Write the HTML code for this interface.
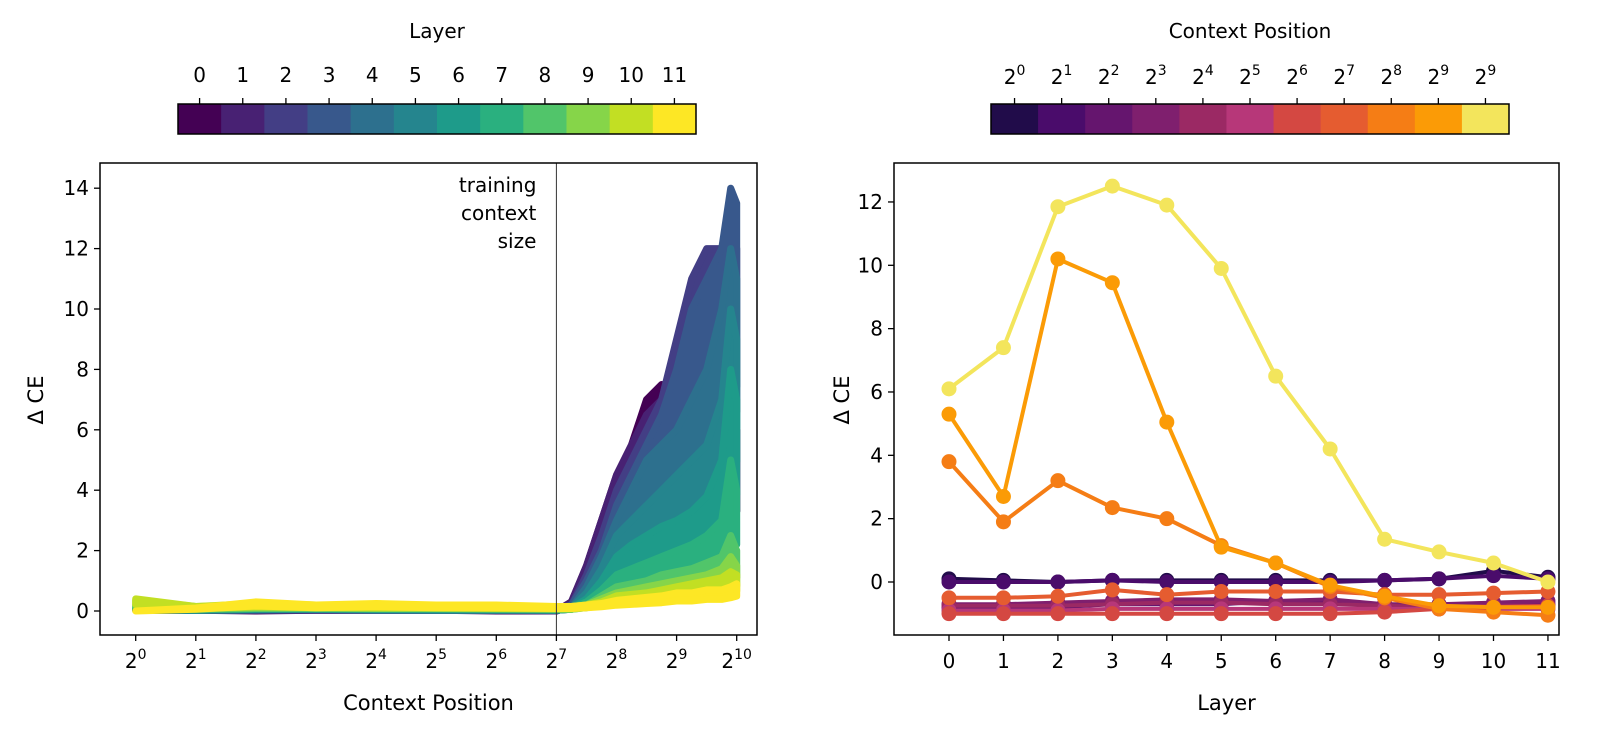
<!DOCTYPE html>
<html><head><meta charset="utf-8"><style>
body{margin:0;background:#fff;}
svg{display:block;font-family:"DejaVu Sans","Liberation Sans",sans-serif;}
</style></head><body>
<svg id="fig" width="1600" height="733" viewBox="0 0 1600 733" xmlns="http://www.w3.org/2000/svg">
<g id="left"></g>
<g id="right"></g>
</svg>
<script>
// ---- Left chart data ----
const leftPositions = [0,1,2,3,4,5,6,7,7.25,7.5,7.75,8,8.25,8.5,8.75,9,9.25,9.5,9.75,9.9,10];
const layerL0  = [0.05,0.05,0.0,0.05,0.05,0.05,0.0,0.0,0.3,1.5,3,4.5,5.5,7,7.5,5,4,4.5,5,6,6];
const layerL1  = [0.05,0.05,0.05,0.05,0.05,0.05,0.05,0.0,0.3,1.5,3,4.5,5.5,6.5,7,8.5,9,7,5,5.5,6];
const layerL2  = [0.05,0.05,0.05,0.05,0.05,0.05,0.05,0.05,0.2,1.2,2.5,4,5,6,7,9,11,12,12,12.5,12];
const layerL3  = [0.05,0.05,0.05,0.1,0.05,0.05,0.05,0.05,0.2,1,2,3.5,4.5,5.5,6.5,8,10,11,12,14,13.5];
const layerL4  = [0.05,0.05,0.1,0.1,0.05,0.05,0.05,0.05,0.1,0.8,1.8,3,4,5,5.5,6,7,8,10,12,11];
const layerL5  = [0.05,0.05,0.1,0.1,0.1,0.05,0.05,0.05,0.1,0.6,1.4,2.5,3,3.5,4,4.5,5,5.5,7,10,9];
const layerL6  = [0.1,0.05,0.1,0.1,0.1,0.1,0.1,0.05,0.1,0.4,1,1.8,2.2,2.5,2.8,3,3.3,3.8,5,8,7];
const layerL7  = [0.15,0.1,0.15,0.15,0.1,0.1,0.1,0.1,0.1,0.3,0.7,1.2,1.4,1.6,1.8,2,2.2,2.5,3,5,4];
const layerL8  = [0.2,0.1,0.15,0.15,0.15,0.15,0.1,0.1,0.1,0.2,0.5,0.8,0.9,1,1.2,1.3,1.4,1.6,1.8,2.5,2];
const layerL9  = [0.35,0.15,0.2,0.2,0.15,0.15,0.15,0.1,0.1,0.2,0.4,0.6,0.7,0.8,0.9,1,1.1,1.2,1.4,1.8,1.5];
const layerL10 = [0.4,0.15,0.25,0.2,0.2,0.2,0.15,0.15,0.15,0.2,0.3,0.5,0.55,0.6,0.7,0.8,0.9,1,1.1,1.3,1.2];
const layerL11 = [0.0,0.1,0.3,0.2,0.25,0.2,0.2,0.15,0.15,0.2,0.25,0.35,0.4,0.45,0.5,0.6,0.6,0.7,0.7,0.8,0.9];
const leftSeries = [layerL0,layerL1,layerL2,layerL3,layerL4,layerL5,layerL6,layerL7,layerL8,layerL9,layerL10,layerL11];
const leftYTicks = [0,2,4,6,8,10,12,14];
const leftXTickExps = [0,1,2,3,4,5,6,7,8,9,10];
const layerLabels = ["0","1","2","3","4","5","6","7","8","9","10","11"];
const trainingContextLog2 = 7;

// ---- Right chart data ----
const rightLayers = [0,1,2,3,4,5,6,7,8,9,10,11];
const ctxP0  = [0.1,0.05,0.0,0.05,0.05,0.05,0.05,0.05,0.05,0.1,0.35,0.15];
const ctxP1  = [0.0,0.0,0.0,0.05,0.0,0.0,0.0,0.0,0.05,0.1,0.2,0.1];
const ctxP2  = [-0.8,-0.8,-0.8,-0.7,-0.7,-0.7,-0.6,-0.6,-0.7,-0.75,-0.7,-0.7];
const ctxP3  = [-0.7,-0.7,-0.65,-0.6,-0.55,-0.55,-0.6,-0.55,-0.7,-0.7,-0.65,-0.6];
const ctxP4  = [-0.75,-0.75,-0.75,-0.7,-0.65,-0.65,-0.7,-0.7,-0.75,-0.8,-0.75,-0.75];
const ctxP5  = [-0.9,-0.9,-0.9,-0.85,-0.85,-0.85,-0.85,-0.85,-0.85,-0.85,-0.85,-0.85];
const ctxP6  = [-1.0,-1.0,-1.0,-1.0,-1.0,-1.0,-1.0,-1.0,-0.95,-0.85,-0.8,-0.75];
const ctxP7  = [-0.5,-0.5,-0.45,-0.25,-0.4,-0.3,-0.3,-0.3,-0.4,-0.4,-0.35,-0.3];
const ctxP8  = [3.8,1.9,3.2,2.35,2.0,1.15,0.6,-0.15,-0.5,-0.85,-0.95,-1.05];
const ctxP9  = [5.3,2.7,10.2,9.45,5.05,1.1,0.6,-0.1,-0.45,-0.75,-0.8,-0.8];
const ctxP10 = [6.1,7.4,11.85,12.5,11.9,9.9,6.5,4.2,1.35,0.95,0.6,0.0];
const rightSeries = [ctxP0,ctxP1,ctxP2,ctxP3,ctxP4,ctxP5,ctxP6,ctxP7,ctxP8,ctxP9,ctxP10];
const rightYTicks = [0,2,4,6,8,10,12];
const ctxExps = [0,1,2,3,4,5,6,7,8,9,9];

const viridis = ["#440154","#482173","#433e85","#38588c","#2d708e","#25858e","#1e9b8a","#2ab07f","#51c56a","#86d549","#c2df23","#fde725"];
const inferno = ["#210c4a","#4a0c6b","#65156e","#7f1f6e","#9b2964","#b73779","#d44842","#e55c30","#f57d15","#fb9b06","#f3e55c"];

const NS="http://www.w3.org/2000/svg";
function mk(tag,attrs,parent){const e=document.createElementNS(NS,tag);for(const k in attrs)e.setAttribute(k,attrs[k]);parent.appendChild(e);return e;}
function powLabel(parent,x,y,exp){
  const t=mk('text',{x:x,y:y,'font-size':20,'text-anchor':'middle',fill:'#000'},parent);
  
  
  t.appendChild(document.createTextNode('2'));
  const s=mk('tspan',{'font-size':14,dy:-9},t);s.textContent=String(exp);
  return t;
}

// ---- Left chart ----
const L=document.getElementById('left');
const lx0=100,lx1=757,ly0=163,ly1=635;
const lxs=v=>135.7+v*60.1;
const lys=v=>611-v*30.2;
leftSeries.forEach((s,i)=>{
  let up='',lo=[];
  s.forEach((v,j)=>{up+=(j?'L':'M')+lxs(leftPositions[j]).toFixed(1)+','+lys(v).toFixed(1);lo.push(lxs(leftPositions[j]).toFixed(1)+','+lys(v*0.55).toFixed(1));});
  const band=mk('path',{d:up+'L'+lo.reverse().join('L')+'Z',fill:viridis[i],stroke:viridis[i],'stroke-width':7,'stroke-linejoin':'round'},L);
  
  
});
const vline=mk('line',{x1:lxs(trainingContextLog2),x2:lxs(trainingContextLog2),y1:ly0,y2:ly1,stroke:'#333','stroke-width':1},L);


const tcs=mk('text',{x:lxs(trainingContextLog2)-20,y:192,'font-size':20,'text-anchor':'end'},L);


['training','context','size'].forEach((w,k)=>{const sp=mk('tspan',{x:lxs(trainingContextLog2)-20,dy:k?28:0},tcs);sp.textContent=w;});
const lbox=mk('rect',{x:lx0,y:ly0,width:lx1-lx0,height:ly1-ly0,fill:'none',stroke:'#000','stroke-width':1.5},L);


leftYTicks.forEach(v=>{
  mk('line',{x1:lx0-6,x2:lx0,y1:lys(v),y2:lys(v),stroke:'#000','stroke-width':1.3},L);
  const t=mk('text',{x:lx0-11,y:lys(v)+7,'font-size':20,'text-anchor':'end'},L);t.textContent=v;
  
  
});
leftXTickExps.forEach(e=>{
  mk('line',{x1:lxs(e),x2:lxs(e),y1:ly1,y2:ly1+6,stroke:'#000','stroke-width':1.3},L);
  powLabel(L,lxs(e),668,e);
});
let t=mk('text',{x:(lx0+lx1)/2,y:710,'font-size':21,'text-anchor':'middle'},L);t.textContent='Context Position';


t=mk('text',{x:0,y:0,'font-size':21,'text-anchor':'middle',transform:'translate(43,400) rotate(-90)'},L);t.textContent='Δ CE';


// left colorbar
const cbL0=178,cbL1=696,cbY=104,cbH=30,segL=(cbL1-cbL0)/12;
viridis.forEach((c,i)=>{const r=mk('rect',{x:cbL0+i*segL,y:cbY,width:segL+0.5,height:cbH,fill:c},L);
  
  
  mk('line',{x1:cbL0+(i+0.5)*segL,x2:cbL0+(i+0.5)*segL,y1:cbY-6,y2:cbY,stroke:'#000','stroke-width':1.3},L);
  const tl=mk('text',{x:cbL0+(i+0.5)*segL,y:82,'font-size':20,'text-anchor':'middle'},L);tl.textContent=layerLabels[i];
  
  
});
mk('rect',{x:cbL0,y:cbY,width:cbL1-cbL0,height:cbH,fill:'none',stroke:'#000','stroke-width':1.5},L);
t=mk('text',{x:(cbL0+cbL1)/2,y:38,'font-size':20,'text-anchor':'middle'},L);t.textContent='Layer';



// ---- Right chart ----
const R=document.getElementById('right');
const rx0=894,rx1=1559,ry0=163,ry1=635;
const rxs=v=>949+v*54.45;
const rys=v=>582-v*31.67;
rightSeries.forEach((s,i)=>{
  let d='';s.forEach((v,j)=>{d+=(j?'L':'M')+rxs(rightLayers[j]).toFixed(1)+','+rys(v).toFixed(1);});
  const p=mk('path',{d:d,fill:'none',stroke:inferno[i],'stroke-width':4,'stroke-linejoin':'round'},R);
  
  
  s.forEach((v,j)=>{const c=mk('circle',{cx:rxs(rightLayers[j]),cy:rys(v),r:7.5,fill:inferno[i]},R);
    
    });
});
const rbox=mk('rect',{x:rx0,y:ry0,width:rx1-rx0,height:ry1-ry0,fill:'none',stroke:'#000','stroke-width':1.5},R);


rightYTicks.forEach(v=>{
  mk('line',{x1:rx0-6,x2:rx0,y1:rys(v),y2:rys(v),stroke:'#000','stroke-width':1.3},R);
  const tl=mk('text',{x:rx0-11,y:rys(v)+7,'font-size':20,'text-anchor':'end'},R);tl.textContent=v;
  
  
});
rightLayers.forEach((l,i)=>{
  mk('line',{x1:rxs(l),x2:rxs(l),y1:ry1,y2:ry1+6,stroke:'#000','stroke-width':1.3},R);
  const tl=mk('text',{x:rxs(l),y:668,'font-size':20,'text-anchor':'middle'},R);tl.textContent=layerLabels[i];
  
  
});
t=mk('text',{x:(rx0+rx1)/2,y:710,'font-size':21,'text-anchor':'middle'},R);t.textContent='Layer';


t=mk('text',{x:0,y:0,'font-size':21,'text-anchor':'middle',transform:'translate(849,400) rotate(-90)'},R);t.textContent='Δ CE';


const cbR0=991,cbR1=1509,segR=(cbR1-cbR0)/11;
inferno.forEach((c,i)=>{const r=mk('rect',{x:cbR0+i*segR,y:cbY,width:segR+0.5,height:cbH,fill:c},R);
  
  
  mk('line',{x1:cbR0+(i+0.5)*segR,x2:cbR0+(i+0.5)*segR,y1:cbY-6,y2:cbY,stroke:'#000','stroke-width':1.3},R);
  powLabel(R,cbR0+(i+0.5)*segR,84,ctxExps[i]);
});
mk('rect',{x:cbR0,y:cbY,width:cbR1-cbR0,height:cbH,fill:'none',stroke:'#000','stroke-width':1.5},R);
t=mk('text',{x:(cbR0+cbR1)/2,y:38,'font-size':20,'text-anchor':'middle'},R);t.textContent='Context Position';


</script>
</body></html>
